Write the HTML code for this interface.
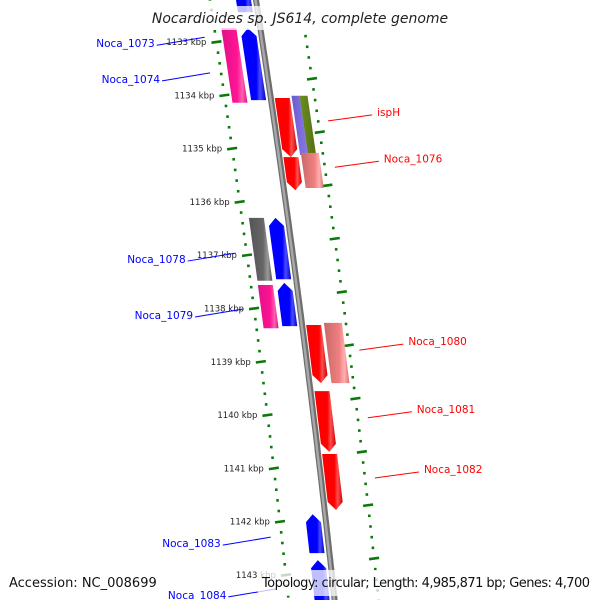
<!DOCTYPE html>
<html><head><meta charset="utf-8"><style>
html,body{margin:0;padding:0;background:#fff;width:600px;height:600px;overflow:hidden;}
svg{display:block;font-family:"DejaVu Sans","Liberation Sans",sans-serif;}
</style></head><body>
<svg id="map" width="600" height="600" viewBox="0 0 600 600" xmlns="http://www.w3.org/2000/svg">
<defs>
<linearGradient id="gRed" x1="0" x2="1"><stop offset="0" stop-color="#ff0000"/><stop offset="0.6" stop-color="#ff0000"/><stop offset="0.75" stop-color="#ff5050"/><stop offset="1" stop-color="#cc0000"/></linearGradient>
<linearGradient id="gBlue" x1="0" x2="1"><stop offset="0" stop-color="#0000ff"/><stop offset="0.6" stop-color="#0000ff"/><stop offset="0.75" stop-color="#4a4aff"/><stop offset="1" stop-color="#0000cc"/></linearGradient>
<linearGradient id="gPink" x1="0" x2="1"><stop offset="0" stop-color="#e0108a"/><stop offset="0.6" stop-color="#ff1493"/><stop offset="0.8" stop-color="#ff60b0"/><stop offset="1" stop-color="#e0108a"/></linearGradient>
<linearGradient id="gGray" x1="0" x2="1"><stop offset="0" stop-color="#555"/><stop offset="0.6" stop-color="#666"/><stop offset="0.8" stop-color="#999"/><stop offset="1" stop-color="#555"/></linearGradient>
<linearGradient id="gSalmon" x1="0" x2="1"><stop offset="0" stop-color="#c86868"/><stop offset="0.6" stop-color="#f08080"/><stop offset="0.8" stop-color="#ffb0b0"/><stop offset="1" stop-color="#d87070"/></linearGradient>
<linearGradient id="gPurple" x1="0" x2="1"><stop offset="0" stop-color="#6a5acd"/><stop offset="1" stop-color="#8a7ae8"/></linearGradient>
<linearGradient id="gOlive" x1="0" x2="1"><stop offset="0" stop-color="#6b8e23"/><stop offset="1" stop-color="#557010"/></linearGradient>
</defs>
<g id="rings"></g>
<g id="backbone"></g>
<g id="genes"></g>
<g id="labels"></g>
<rect x="150" y="6" width="300" height="24" fill="#fff" fill-opacity="0.75"/>
<text x="300" y="23" text-anchor="middle" font-size="14" font-style="italic" fill="#222">Nocardioides sp. JS614, complete genome</text>
<rect x="0" y="570" width="150" height="26" fill="#fff" fill-opacity="0.75"/>
<text x="9" y="587" font-size="13" fill="#111">Accession: NC_008699</text>
<rect x="258" y="570" width="342" height="26" fill="#fff" fill-opacity="0.75"/>
<text x="262" y="587" font-size="13" fill="#111" textLength="328">Topology: circular; Length: 4,985,871 bp; Genes: 4,700</text>
</svg>
<script>
// data
const geneStart = [1131.8, 1132.74, 1132.74, 1134.05, 1134.01, 1134.01, 1135.16, 1135.08, 1136.30, 1136.30, 1137.56, 1137.52, 1138.31, 1138.27, 1139.55, 1140.73, 1141.86, 1142.72];
const geneEnd   = [1132.44, 1134.14, 1134.09, 1135.16, 1135.12, 1135.12, 1135.78, 1135.74, 1137.48, 1137.45, 1138.37, 1138.33, 1139.40, 1139.40, 1140.69, 1141.78, 1142.59, 1143.70];
const geneDir   = ['r','n','r','f','n','n','f','n','n','r','n','r','f','n','f','f','r','r'];
const geneLane  = ['li','lo','li','ri','rp','ro2','ri','ro','lo','li','lo','li','ri','ro','ri','ri','li','li'];
const geneColor = ['Blue','Pink','Blue','Red','Purple','Olive','Red','Salmon','Gray','Blue','Pink','Blue','Red','Salmon','Red','Red','Blue','Blue'];
const tickKbp = [1133,1134,1135,1136,1137,1138,1139,1140,1141,1142,1143];
const labelNames = ['Noca_1073','Noca_1074','ispH','Noca_1076','Noca_1078','Noca_1079','Noca_1080','Noca_1081','Noca_1082','Noca_1083','Noca_1084'];
const labelKbp = [1132.91, 1133.58, 1134.48, 1135.35, 1136.96, 1138.01, 1138.78, 1140.05, 1141.18, 1142.29, 1143.26];
const labelSide = ['l','l','r','r','l','l','r','r','r','l','l'];

const NS='http://www.w3.org/2000/svg';
function yS(k){return 42+(k-1133)*53.3;}
function bx(y){return 256+0.155*y-0.00004*y*y;}
const lanes={li:[-20,-5],lo:[-39,-24],ri:[4,19],ro:[22,40],rp:[21,29],ro2:[29,37]};
function mk(tag,attrs,parent){const e=document.createElementNS(NS,tag);for(const k in attrs)e.setAttribute(k,attrs[k]);parent.appendChild(e);return e;}

// rings
const rg=document.getElementById('rings');
for(let k=1131.0;k<=1144.2;k+=0.2){
  const kk=Math.round(k*10)/10;const y=yS(kk);
  if(y<-5||y>605)continue;
  const major=Math.abs(kk-Math.round(kk))<0.01;
  const lx=bx(y)-46;
  const d=mk('line',{x1:lx-(major?5:1.3),y1:y+(major?0.7:0),x2:lx+(major?5:1.3),y2:y-(major?0.7:0),stroke:'#0a7a0a','stroke-width':2.6},rg);
  
  
  const k2=kk+0.69;const y2=yS(k2);
  const rx=bx(y2)+44;
  const d2=mk('line',{x1:rx-(major?5:1.3),y1:y2+(major?0.7:0),x2:rx+(major?5:1.3),y2:y2-(major?0.7:0),stroke:'#0a7a0a','stroke-width':2.6},rg);
  
  
}
tickKbp.forEach(k=>{
  const y=yS(k);
  const t=mk('text',{x:bx(y)-56,y:y+3,'text-anchor':'end','font-size':8.5,fill:'#222'},rg);
  t.textContent=k+' kbp';
  
  
});

// backbone
const bb=document.getElementById('backbone');
let pts=[];for(let y=-5;y<=605;y+=5)pts.push(bx(y).toFixed(1)+','+y);
const b1=mk('polyline',{points:pts.join(' '),fill:'none',stroke:'#6e6e6e','stroke-width':6},bb);


mk('polyline',{points:pts.join(' '),fill:'none',stroke:'#a8a8a8','stroke-width':2.5,transform:'translate(-0.5,0)'},bb);

// genes
const gg=document.getElementById('genes');
geneStart.forEach((s,i)=>{
  const y1=yS(s),y2=yS(geneEnd[i]);const [o1,o2]=lanes[geneLane[i]];
  const L=y=>bx(y)+o1,R=y=>bx(y)+o2,C=y=>bx(y)+(o1+o2)/2;
  const h=Math.min(8,(y2-y1)/3);let p;
  if(geneDir[i]==='f')p=[[L(y1),y1],[R(y1),y1],[R(y2-h),y2-h],[C(y2),y2],[L(y2-h),y2-h]];
  else if(geneDir[i]==='r')p=[[C(y1),y1],[R(y1+h),y1+h],[R(y2),y2],[L(y2),y2],[L(y1+h),y1+h]];
  else p=[[L(y1),y1],[R(y1),y1],[R(y2),y2],[L(y2),y2]];
  const g=mk('polygon',{points:p.map(q=>q[0].toFixed(1)+','+q[1].toFixed(1)).join(' '),fill:'url(#g'+geneColor[i]+')'},gg);
  
  
});

// labels
const lg=document.getElementById('labels');
labelNames.forEach((n,i)=>{
  const y=yS(labelKbp[i]);
  if(labelSide[i]==='l'){
    const ex=bx(y)-57;
    mk('line',{x1:ex-48,y1:y+8,x2:ex,y2:y,stroke:'#0000ff','stroke-width':1},lg);
    const t=mk('text',{x:ex-50,y:y+10,'text-anchor':'end','font-size':10.5,fill:'#0000ff'},lg);
    t.textContent=n;
    
    
  }else{
    const sx=bx(y)+54;
    mk('line',{x1:sx,y1:y,x2:sx+44,y2:y-6,stroke:'#ff0000','stroke-width':1},lg);
    const t=mk('text',{x:sx+49,y:y-5,'font-size':10.5,fill:'#ff0000'},lg);
    t.textContent=n;
    
    
  }
});
</script>
</body></html>
